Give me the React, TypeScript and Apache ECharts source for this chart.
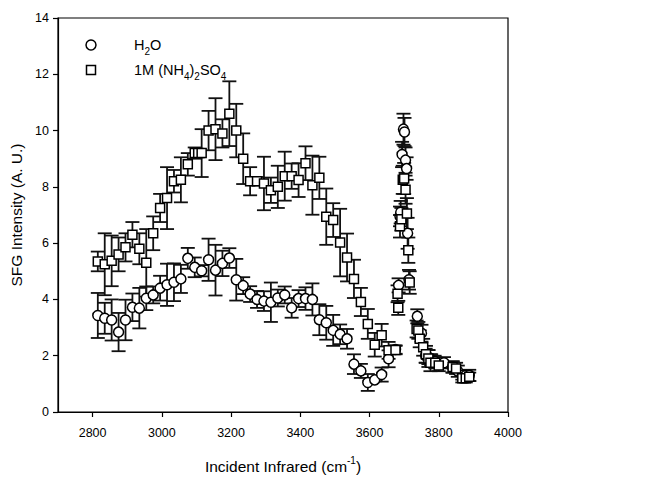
import React, { useEffect, useRef } from "react";
import * as echarts from "echarts";

// ---------- data (wavenumber cm^-1, SFG intensity, error half-width) ----------
const h2oX = [
  2815, 2835, 2855, 2875, 2895, 2915, 2935, 2955, 2975, 2995, 3015, 3035, 3055, 3075, 3095,
  3115, 3135, 3155, 3175, 3195, 3215, 3235, 3255, 3275, 3295, 3315, 3335, 3355, 3375, 3395,
  3415, 3435, 3455, 3475, 3495, 3515, 3535, 3555, 3575, 3595, 3615, 3635, 3655, 3675,
  3684, 3688, 3690, 3694, 3698, 3701, 3704, 3707, 3710, 3714,
  3738, 3750, 3762, 3770, 3778, 3788, 3815, 3840, 3855, 3868, 3878, 3888,
];
const h2oY = [
  3.43, 3.33, 3.27, 2.84, 3.27, 3.72, 3.69, 4.04, 4.16, 4.4, 4.52, 4.61, 4.73, 5.46, 5.14,
  5.02, 5.41, 5.04, 5.28, 5.47, 4.7, 4.49, 4.19, 4.0, 3.94, 3.9, 4.05, 4.16, 3.7, 4.03,
  4.03, 4.0, 3.28, 3.17, 2.9, 2.76, 2.6, 1.7, 1.46, 1.05, 1.14, 1.33, 1.89, 2.22,
  4.5, 6.95, 7.1, 9.15, 10.05, 9.95, 8.95, 8.65, 6.35, 4.7,
  3.4, 2.8, 2.0, 1.95, 1.85, 1.8, 1.75, 1.6, 1.45, 1.3, 1.3, 1.3,
];
const h2oErr = [
  0.8, 0.55, 0.73, 0.68, 0.72, 0.49, 0.72, 0.42, 0.3, 0.44, 0.75, 0.67, 0.5, 0.37, 0.35,
  0.2, 0.75, 0.9, 0.45, 0.35, 0.74, 0.3, 0.28, 0.3, 0.35, 0.7, 0.3, 0.3, 0.35, 0.3,
  0.4, 0.57, 0.55, 0.6, 0.55, 0.35, 0.35, 0.35, 0.25, 0.3, 0.05, 0.25, 0.3, 0.15,
  0.25, 0.35, 0.4, 0.45, 0.55, 0.5, 0.45, 0.4, 0.55, 0.35,
  0.25, 0.3, 0.25, 0.25, 0.2, 0.2, 0.2, 0.2, 0.2, 0.15, 0.15, 0.2,
];

const amsX = [
  2815, 2835, 2855, 2875, 2895, 2915, 2935, 2955, 2975, 2995, 3015, 3035, 3055, 3075, 3095,
  3105, 3115, 3135, 3155, 3175, 3195, 3215, 3235, 3255, 3275, 3295, 3315, 3335, 3355, 3375,
  3395, 3415, 3435, 3455, 3475, 3495, 3515, 3535, 3555, 3575, 3595, 3615, 3635, 3655, 3675,
  3681, 3683, 3688, 3692, 3696, 3700, 3704, 3708, 3712, 3716,
  3736, 3741, 3745, 3755, 3763, 3770, 3776, 3790, 3800, 3840, 3850, 3868, 3878, 3888,
];
const amsY = [
  5.35, 5.25, 5.37, 5.6, 5.85, 6.3, 5.8, 5.3, 6.35, 7.25, 7.6, 8.2, 8.25, 8.8, 9.2,
  9.2, 9.2, 10.0, 10.05, 9.9, 10.6, 10.0, 9.0, 8.2, 8.2, 8.12, 7.88, 8.0, 8.38, 8.38,
  8.24, 8.84, 8.06, 8.32, 6.94, 6.82, 6.02, 5.49, 4.73, 3.91, 3.13, 2.39, 2.73, 2.19, 2.2,
  4.2, 3.7, 6.6, 6.85, 8.25, 8.3, 7.9, 7.05, 5.75, 4.6,
  2.95, 2.9, 2.6, 2.3, 2.05, 1.9, 1.75, 1.75, 1.65, 1.6, 1.55, 1.2, 1.2, 1.25,
];
const amsErr = [
  0.35, 1.1, 0.9, 0.6, 0.5, 0.45, 0.55, 1.2, 0.6, 0.5, 1.1, 0.4, 0.8, 0.4, 0.2,
  0.15, 0.85, 0.7, 1.1, 0.5, 1.15, 0.95, 0.9, 0.5, 0.15, 0.95, 0.45, 0.75, 0.87, 0.45,
  0.6, 0.6, 1.05, 0.75, 1.0, 0.6, 1.2, 0.85, 0.68, 0.5, 0.53, 0.42, 0.4, 0.3, 0.15,
  0.3, 0.25, 0.4, 0.4, 0.5, 0.55, 0.5, 0.55, 0.45, 0.4,
  0.3, 0.3, 0.3, 0.3, 0.3, 0.3, 0.3, 0.2, 0.2, 0.2, 0.2, 0.15, 0.15, 0.15,
];

const xTicks = [2800, 3000, 3200, 3400, 3600, 3800, 4000];
const yTicks = [0, 2, 4, 6, 8, 10, 12, 14];

const FONT = "'Liberation Sans', Arial, sans-serif";

function points(xs: number[], ys: number[]) {
  return xs.map((x, i) => [x, ys[i]]);
}
function bars(xs: number[], ys: number[], es: number[]) {
  return xs.map((x, i) => [x, ys[i] - es[i], ys[i] + es[i]]);
}

const errorRender = (params: any, api: any) => {
  const x = api.value(0);
  const lo = api.coord([x, api.value(1)]);
  const hi = api.coord([x, api.value(2)]);
  const w = 7;
  const style = { stroke: "#111", lineWidth: 1.8 };
  return {
    type: "group",
    children: [
      { type: "line", shape: { x1: lo[0], y1: lo[1], x2: hi[0], y2: hi[1] }, style },
      { type: "line", shape: { x1: lo[0] - w, y1: lo[1], x2: lo[0] + w, y2: lo[1] }, style },
      { type: "line", shape: { x1: hi[0] - w, y1: hi[1], x2: hi[0] + w, y2: hi[1] }, style },
    ],
  };
};

export default function App() {
  const ref = useRef<HTMLDivElement>(null);
  useEffect(() => {
    document.body.style.margin = "0";
    const chart = echarts.init(ref.current!, null, { renderer: "svg" });
    const markerStyle = { color: "#fff", borderColor: "#000", borderWidth: 1.5, opacity: 1 };
    const subRich = { sub: { fontSize: 10, verticalAlign: "bottom", lineHeight: 22, fontFamily: FONT } };
    chart.setOption({
      animation: false,
      backgroundColor: "#fff",
      textStyle: { fontFamily: FONT, color: "#000" },
      grid: {
        left: 58,
        right: 146,
        top: 18,
        bottom: 61,
        show: true,
        borderColor: "#000",
        borderWidth: 1.2,
        backgroundColor: "transparent",
      },
      xAxis: {
        type: "value",
        min: 2700,
        max: 4000,
        name: "Incident Infrared (cm{sup|-1})",
        nameLocation: "middle",
        nameGap: 43,
        nameTextStyle: {
          fontSize: 15.5,
          fontFamily: FONT,
          color: "#000",
          rich: { sup: { fontSize: 10, verticalAlign: "top", lineHeight: 22, fontFamily: FONT } },
        },
        axisLine: { show: true, onZero: false, lineStyle: { color: "#000", width: 1.2 } },
        axisTick: { show: true, inside: false, length: 5, customValues: xTicks, lineStyle: { color: "#000", width: 1.2 } },
        axisLabel: {
          customValues: xTicks,
          fontSize: 12.5,
          margin: 14,
          color: "#000",
          fontFamily: FONT,
          formatter: (v: number) => String(v),
        },
        splitLine: { show: false },
      },
      yAxis: {
        type: "value",
        min: 0,
        max: 14,
        interval: 2,
        name: "SFG Intensity (A. U.)",
        nameLocation: "middle",
        nameGap: 34,
        nameTextStyle: { fontSize: 15.5, fontFamily: FONT, color: "#000" },
        axisLine: { show: true, onZero: false, lineStyle: { color: "#000", width: 1.2 } },
        axisTick: { show: true, inside: false, length: 5, lineStyle: { color: "#000", width: 1.2 } },
        axisLabel: {
          fontSize: 12.5,
          margin: 9,
          color: "#000",
          fontFamily: FONT,
          customValues: yTicks,
          formatter: (v: number) => String(v),
        },
        splitLine: { show: false },
      },
      series: [
        {
          type: "custom",
          name: "H2O err",
          renderItem: errorRender,
          data: bars(h2oX, h2oY, h2oErr),
          encode: { x: 0, y: [1, 2] },
          z: 1,
        },
        {
          type: "custom",
          name: "AS err",
          renderItem: errorRender,
          data: bars(amsX, amsY, amsErr),
          encode: { x: 0, y: [1, 2] },
          z: 1,
        },
        {
          type: "scatter",
          name: "H2O",
          symbol: "circle",
          symbolSize: 10,
          itemStyle: markerStyle,
          emphasis: { disabled: true },
          data: points(h2oX, h2oY),
          z: 3,
        },
        {
          type: "scatter",
          name: "1M (NH4)2SO4",
          symbol: "rect",
          symbolSize: 9,
          itemStyle: markerStyle,
          emphasis: { disabled: true },
          data: points(amsX, amsY),
          z: 3,
        },
      ],
      graphic: [
        {
          type: "circle",
          shape: { cx: 91, cy: 45, r: 5 },
          style: { fill: "#fff", stroke: "#000", lineWidth: 1.5 },
        },
        {
          type: "rect",
          shape: { x: 86.5, y: 65.5, width: 9, height: 9 },
          style: { fill: "#fff", stroke: "#000", lineWidth: 1.5 },
        },
        {
          type: "text",
          x: 134,
          y: 45,
          style: {
            text: "H{sub|2}O",
            fontSize: 14.5,
            fontFamily: FONT,
            fill: "#000",
            verticalAlign: "middle",
            rich: subRich,
          },
        },
        {
          type: "text",
          x: 134,
          y: 70,
          style: {
            text: "1M (NH{sub|4}){sub|2}SO{sub|4}",
            fontSize: 14.5,
            fontFamily: FONT,
            fill: "#000",
            verticalAlign: "middle",
            rich: subRich,
          },
        },
      ],
    });
    return () => chart.dispose();
  }, []);
  return <div ref={ref} style={{ width: 654, height: 479 }} />;
}
